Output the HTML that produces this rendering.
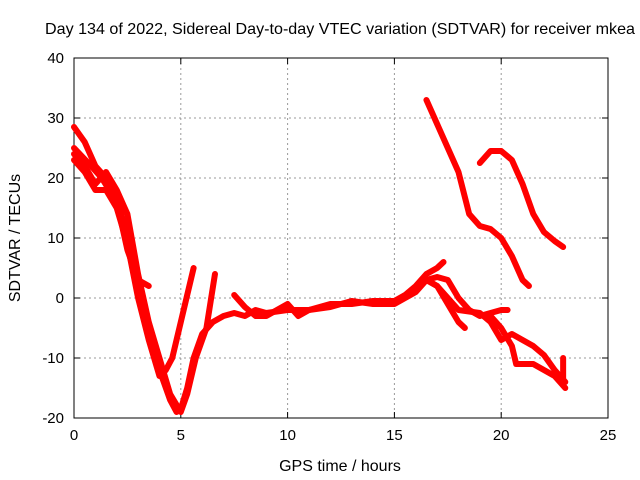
<!DOCTYPE html>
<html><head><meta charset="utf-8"><style>
body{margin:0;background:#fff}
svg{display:block;font-family:"Liberation Sans",sans-serif;font-size:15px}
</style></head><body>
<svg id="chart" width="640" height="480" viewBox="0 0 640 480">
<rect width="640" height="480" fill="#fff"/>
<text x="340" y="34" text-anchor="middle" font-size="16" textLength="590" lengthAdjust="spacingAndGlyphs">Day 134 of 2022, Sidereal Day-to-day VTEC variation (SDTVAR) for receiver mkea</text>
<g id="grid"></g>
<g id="axes"></g>
<g id="series"></g>
<text x="340" y="471" text-anchor="middle" font-size="16">GPS time / hours</text>
<text transform="translate(20,238) rotate(-90)" text-anchor="middle" font-size="16">SDTVAR / TECUs</text>
</svg>
<script>
const xTicks=[0,5,10,15,20,25];
const yTicks=[-20,-10,0,10,20,30,40];
const tr1=[[0,28.5],[0.5,26],[1,22],[1.5,20],[2,17],[2.5,10],[3,2],[3.5,-5],[4,-12],[4.5,-17],[4.8,-19],[5,-18.5],[5.3,-15],[5.6,-10],[6,-6],[6.5,-4],[7,-3],[7.5,-2.5],[8,-3],[8.5,-2],[9,-2.5],[10,-2],[11,-2],[12,-1],[13,-1],[14,-0.5],[15,-0.5],[15.5,0.5],[16,2],[16.5,4],[17,5],[17.3,6]];
const tr2=[[0,24],[0.5,22],[1,19],[1.5,21],[2,18],[2.5,14],[3,4],[3.5,-4],[4,-10],[4.5,-16],[5,-19],[5.3,-16],[5.7,-10],[6.2,-5],[6.6,4]];
const tr3=[[0,25],[0.8,22],[1.3,20],[2,16],[2.5,8],[3,3],[3.5,2]];
const tr4=[[0,23],[0.5,21],[1,18],[1.5,18],[2,15],[2.5,9],[3,0],[3.5,-7],[4,-13],[4.3,-12],[4.6,-10],[5,-4],[5.4,2],[5.6,5]];
const tr5=[[7.5,0.5],[8,-1.5],[8.5,-3],[9,-3],[10,-1],[10.5,-3],[11,-2],[12,-1.5],[13,-0.5],[14,-1],[15,-1],[16,1],[16.5,3],[17,2],[17.5,-1],[18,-4],[18.3,-5]];
const tr6=[[16.5,3],[17,3.5],[17.5,3],[18,0],[18.5,-2],[19,-3],[19.5,-2.5],[20,-2],[20.3,-2]];
const tr7=[[16.5,3],[17,2],[17.5,0],[18,-2],[19,-2.5],[19.5,-4],[20,-7],[20.5,-6],[21,-7],[21.5,-8],[22,-9.5],[22.5,-12],[23,-14]];
const tr8=[[19.5,-3],[20,-5],[20.5,-8],[20.7,-11],[21.5,-11],[22,-12],[22.5,-13],[23,-15]];
const tr9=[[16.5,33],[17,29],[17.5,25],[18,21],[18.5,14],[19,12],[19.5,11.5],[20,10],[20.5,7],[21,3],[21.3,2]];
const tr10=[[19,22.5],[19.5,24.5],[20,24.5],[20.5,23],[21,19],[21.5,14],[22,11],[22.5,9.5],[22.9,8.5]];
const tr11=[[22.9,-10],[22.9,-14]];
const traces=[tr1,tr2,tr3,tr4,tr5,tr6,tr7,tr8,tr9,tr10,tr11];

const L=74,R=608,T=58,B=418;
const xs=v=>L+(v-0)/25*(R-L);
const ys=v=>B-(v+20)/60*(B-T);
const NS="http://www.w3.org/2000/svg";
function mk(tag,attrs,parent){const e=document.createElementNS(NS,tag);for(const k in attrs)e.setAttribute(k,attrs[k]);parent.appendChild(e);return e;}
const grid=document.getElementById('grid'),axes=document.getElementById('axes'),ser=document.getElementById('series');
xTicks.forEach(t=>{
  const x=xs(t);
  if(t>0&&t<25){const g=mk('line',{x1:x,x2:x,y1:T,y2:B,stroke:'#999','stroke-dasharray':'2,3','stroke-width':1},grid);
  
  }
  mk('line',{x1:x,x2:x,y1:B,y2:B-6,stroke:'#000'},axes);
  mk('line',{x1:x,x2:x,y1:T,y2:T+6,stroke:'#000'},axes);
  const lb=mk('text',{x:x,y:B+22,'text-anchor':'middle'},axes);lb.textContent=t;
  
  
});
yTicks.forEach(t=>{
  const y=ys(t);
  if(t>-20&&t<40){const g=mk('line',{x1:L,x2:R,y1:y,y2:y,stroke:'#999','stroke-dasharray':'2,3','stroke-width':1},grid);
  
  }
  mk('line',{x1:L,x2:L+6,y1:y,y2:y,stroke:'#000'},axes);
  mk('line',{x1:R,x2:R-6,y1:y,y2:y,stroke:'#000'},axes);
  const lb=mk('text',{x:L-10,y:y+5,'text-anchor':'end'},axes);lb.textContent=t;
  
  
});
const fr=mk('rect',{x:L,y:T,width:R-L,height:B-T,fill:'none',stroke:'#000'},axes);


traces.forEach((tr,i)=>{
  const p=mk('polyline',{points:tr.map(d=>xs(d[0])+','+ys(d[1])).join(' '),fill:'none',stroke:'#f00','stroke-width':6,'stroke-linejoin':'round','stroke-linecap':'round'},ser);
  
  
});
</script>
</body></html>
